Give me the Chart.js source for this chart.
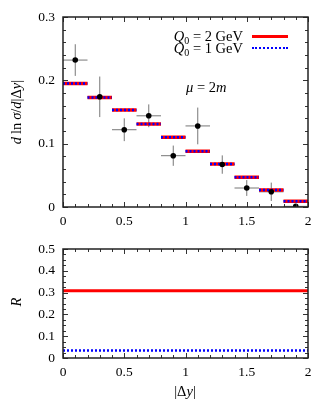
<!DOCTYPE html>
<html>
<head>
<meta charset="utf-8">
<script src="https://cdn.jsdelivr.net/npm/chart.js@4"></script>
<style>
  body { margin: 0; background: #fff; }
  #wrap { position: relative; width: 332px; height: 400px; font-family: "Liberation Serif", serif; font-size: 14.5px; color: #000; }
  canvas { position: absolute; left: 0; }
  .lbl { position: absolute; white-space: nowrap; line-height: 1; }
  i { font-style: italic; }
  sub { font-size: 10px; vertical-align: -3px; line-height: 0; }
</style>
</head>
<body>
<div id="wrap">
  <canvas id="top" width="332" height="232" style="top:0"></canvas>
  <canvas id="bottom" width="332" height="168" style="top:232px"></canvas>

  <div class="lbl" style="right:89px; top:29px;"><i>Q</i><sub>0</sub> = 2 GeV</div>
  <div class="lbl" style="right:89px; top:41px;"><i>Q</i><sub>0</sub> = 1 GeV</div>
  <div style="position:absolute; left:252px; top:35px; width:36px; height:3px; background:#ff0000;"></div>
  <div style="position:absolute; left:252px; top:47px; width:36px; height:0; border-top:2.5px dotted #0000ff;"></div>
  <div class="lbl" style="left:186px; top:80px;"><i>μ</i> = 2<i>m</i></div>

  <div class="lbl" style="left:16px; top:112px; transform: translate(-50%,-50%) rotate(-90deg);"><i>d</i>&thinsp;ln&thinsp;<i>σ</i>/<i>d</i>|Δ<i>y</i>|</div>
  <div class="lbl" style="left:16px; top:302px; transform: translate(-50%,-50%) rotate(-90deg);"><i>R</i></div>
  <div class="lbl" style="left:185px; top:391px; transform: translate(-50%,-50%);">|Δ<i>y</i>|</div>
</div>

<script>
// histogram bins
const binEdges = [0, 0.2, 0.4, 0.6, 0.8, 1.0, 1.2, 1.4, 1.6, 1.8, 2.0];
const histQ2 = [0.195, 0.173, 0.153, 0.131, 0.110, 0.088, 0.068, 0.047, 0.027, 0.009];
const histQ1 = [0.195, 0.173, 0.153, 0.131, 0.110, 0.088, 0.068, 0.047, 0.027, 0.009];

// data points with errors
const dataX = [0.1, 0.3, 0.5, 0.7, 0.9, 1.1, 1.3, 1.5, 1.7, 1.9];
const dataY = [0.232, 0.174, 0.122, 0.144, 0.081, 0.128, 0.067, 0.030, 0.024, 0.001];
const dataErr = [0.025, 0.032, 0.018, 0.018, 0.016, 0.029, 0.0145, 0.0125, 0.0145, 0.002];

// ratio R
const ratioX = [0, 0.5, 1.0, 1.5, 2.0];
const ratioQ2 = [0.308, 0.308, 0.308, 0.308, 0.308];
const ratioQ1 = [0.034, 0.034, 0.034, 0.034, 0.034];

const FONT = { family: 'Liberation Serif', size: 13.5 };

// turn bin values into separate flat segments
function histSegments(edges, vals) {
  const pts = [];
  for (let i = 0; i < vals.length; i++) {
    pts.push({ x: edges[i], y: vals[i] });
    pts.push({ x: edges[i + 1], y: vals[i] });
    pts.push({ x: edges[i + 1], y: null });
  }
  return pts;
}

// frame with inward ticks on all four sides
const framePlugin = {
  id: 'frame',
  afterDraw(chart, args, opts) {
    const ctx = chart.ctx;
    const a = chart.chartArea;
    const xs = chart.scales.x, ys = chart.scales.y;
    ctx.save();
    ctx.strokeStyle = '#333';
    ctx.lineWidth = 1;
    const isMajor = (v, m) => Math.abs(v / m - Math.round(v / m)) < 1e-6;
    for (let v = xs.min; v <= xs.max + 1e-9; v += opts.xMinor) {
      const px = Math.round(xs.getPixelForValue(v)) + 0.5;
      const len = isMajor(v, opts.xMajor) ? 5 : 3;
      ctx.beginPath();
      ctx.moveTo(px, a.bottom); ctx.lineTo(px, a.bottom - len);
      ctx.moveTo(px, a.top); ctx.lineTo(px, a.top + len);
      ctx.stroke();
    }
    for (let v = ys.min; v <= ys.max + 1e-9; v += opts.yMinor) {
      const py = Math.round(ys.getPixelForValue(v)) + 0.5;
      const len = isMajor(v, opts.yMajor) ? 5 : 3;
      ctx.beginPath();
      ctx.moveTo(a.left, py); ctx.lineTo(a.left + len, py);
      ctx.moveTo(a.right, py); ctx.lineTo(a.right - len, py);
      ctx.stroke();
    }
    ctx.strokeStyle = '#222';
    ctx.lineWidth = 1.5;
    ctx.strokeRect(a.left, a.top, a.right - a.left, a.bottom - a.top);
    ctx.restore();
  }
};

// error bars for the data points
const errorPlugin = {
  id: 'errbars',
  beforeDatasetsDraw(chart) {
    if (!chart.options.plugins.errbars.show) return;
    const ctx = chart.ctx;
    const xs = chart.scales.x, ys = chart.scales.y;
    ctx.save();
    ctx.strokeStyle = '#777';
    ctx.lineWidth = 1;
    dataX.forEach((x, i) => {
      const cx = xs.getPixelForValue(x);
      const cy = ys.getPixelForValue(dataY[i]);
      ctx.beginPath();
      ctx.moveTo(xs.getPixelForValue(x - 0.1), cy);
      ctx.lineTo(xs.getPixelForValue(x + 0.1), cy);
      ctx.moveTo(cx, ys.getPixelForValue(dataY[i] + dataErr[i]));
      ctx.lineTo(cx, ys.getPixelForValue(Math.max(0, dataY[i] - dataErr[i])));
      ctx.stroke();
    });
    ctx.restore();
  }
};

const fmt = v => String(Math.round(v * 100) / 100);

function axes(yMax, xHeight) {
  return {
    x: {
      type: 'linear', min: 0, max: 2,
      ticks: { stepSize: 0.5, font: FONT, color: '#000', padding: 6, maxRotation: 0, callback: fmt },
      grid: { display: false, drawTicks: false },
      border: { display: false },
      afterFit(s) { s.height = xHeight; }
    },
    y: {
      min: 0, max: yMax,
      ticks: { stepSize: 0.1, font: FONT, color: '#000', padding: 8, callback: fmt },
      grid: { display: false, drawTicks: false },
      border: { display: false },
      afterFit(s) { s.width = 63; }
    }
  };
}

// top panel
new Chart(document.getElementById('top'), {
  type: 'line',
  data: {
    datasets: [
      {
        type: 'scatter',
        data: dataX.map((x, i) => ({ x: x, y: dataY[i] })),
        pointRadius: 2.8,
        pointBackgroundColor: '#000',
        pointBorderWidth: 0
      },
      {
        data: histSegments(binEdges, histQ1),
        borderColor: '#0000ff',
        borderWidth: 2.5,
        borderDash: [2, 2],
        pointRadius: 0,
        spanGaps: false
      },
      {
        data: histSegments(binEdges, histQ2),
        borderColor: '#ff0000',
        borderWidth: 3.5,
        pointRadius: 0,
        spanGaps: false
      }
    ]
  },
  options: {
    responsive: false,
    animation: false,
    devicePixelRatio: 1,
    layout: { padding: { left: 0, right: 24, top: 17, bottom: 0 } },
    scales: axes(0.3, 25),
    plugins: {
      legend: { display: false },
      tooltip: { enabled: false },
      frame: { xMinor: 0.1, xMajor: 0.5, yMinor: 0.02, yMajor: 0.1 },
      errbars: { show: true }
    }
  },
  plugins: [framePlugin, errorPlugin]
});

// bottom panel
new Chart(document.getElementById('bottom'), {
  type: 'line',
  data: {
    datasets: [
      {
        data: ratioX.map((x, i) => ({ x: x, y: ratioQ1[i] })),
        borderColor: '#0000ff',
        borderWidth: 2.5,
        borderDash: [2, 2],
        pointRadius: 0
      },
      {
        data: ratioX.map((x, i) => ({ x: x, y: ratioQ2[i] })),
        borderColor: '#ff0000',
        borderWidth: 3,
        pointRadius: 0
      }
    ]
  },
  options: {
    responsive: false,
    animation: false,
    devicePixelRatio: 1,
    layout: { padding: { left: 0, right: 24, top: 17, bottom: 0 } },
    scales: axes(0.5, 42),
    plugins: {
      legend: { display: false },
      tooltip: { enabled: false },
      frame: { xMinor: 0.1, xMajor: 0.5, yMinor: 0.025, yMajor: 0.1 },
      errbars: { show: false }
    }
  },
  plugins: [framePlugin, errorPlugin]
});
</script>
</body>
</html>
